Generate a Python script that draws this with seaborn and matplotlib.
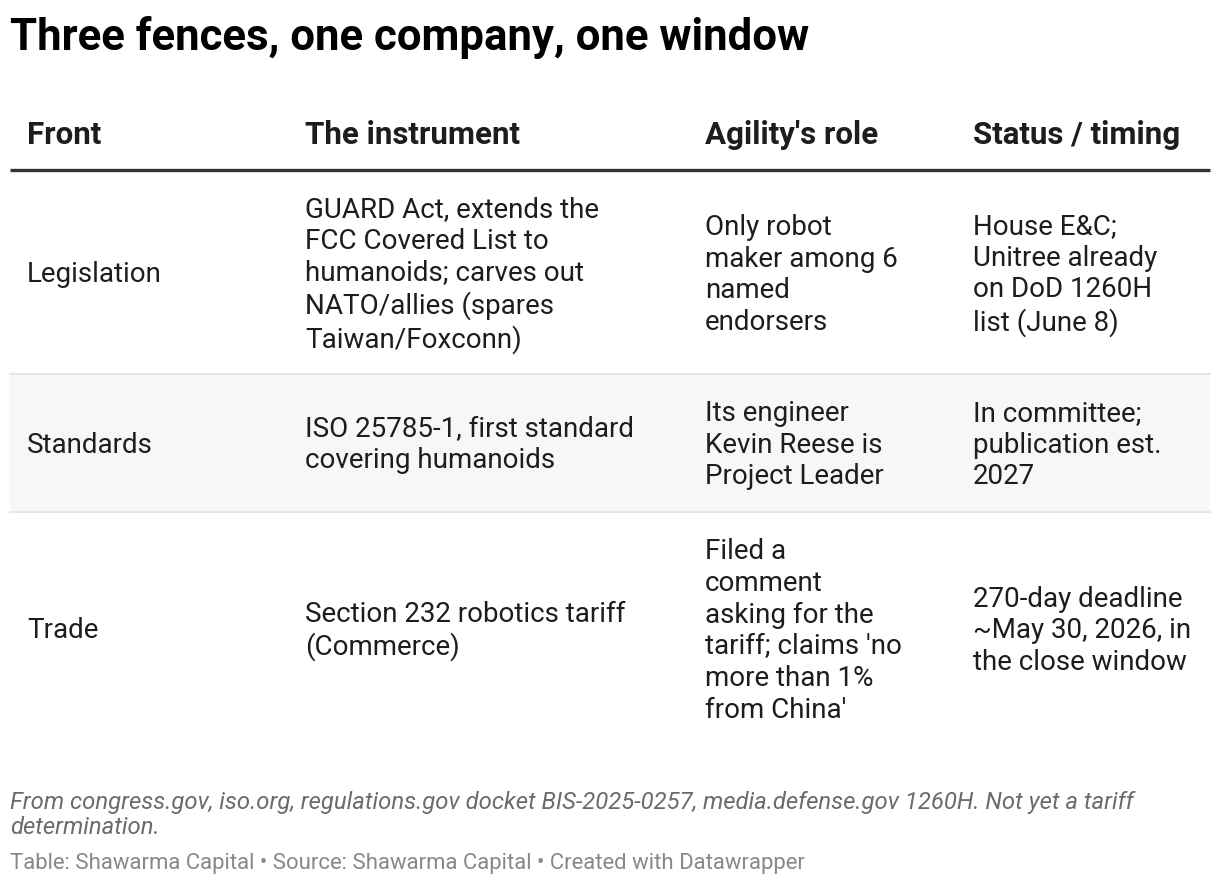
import matplotlib.pyplot as plt
import seaborn as sns

# Contenuto della tabella
titolo = "Three fences, one company, one window"
colonne = ["Front", "The instrument", "Agility's role", "Status / timing"]
fronti = ["Legislation", "Standards", "Trade"]
strumenti = [
    "GUARD Act, extends the\nFCC Covered List to\nhumanoids; carves out\nNATO/allies (spares\nTaiwan/Foxconn)",
    "ISO 25785-1, first standard\ncovering humanoids",
    "Section 232 robotics tariff\n(Commerce)",
]
ruoli = [
    "Only robot\nmaker among 6\nnamed\nendorsers",
    "Its engineer\nKevin Reese is\nProject Leader",
    "Filed a\ncomment\nasking for the\ntariff; claims 'no\nmore than 1%\nfrom China'",
]
stati = [
    "House E&C;\nUnitree already\non DoD 1260H\nlist (June 8)",
    "In committee;\npublication est.\n2027",
    "270-day deadline\n~May 30, 2026, in\nthe close window",
]
nota = ("From congress.gov, iso.org, regulations.gov docket BIS-2025-0257, media.defense.gov 1260H. Not yet a tariff\n"
        "determination.")
fonte = "Table: Shawarma Capital \u2022 Source: Shawarma Capital \u2022 Created with Datawrapper"

sns.set_theme(style="white")
plt.rcParams['font.family'] = ['Roboto', 'DejaVu Sans']

W, H = 1220, 886
fig = plt.figure(figsize=(W / 100, H / 100), dpi=100)
ax = fig.add_axes((0, 0, 1, 1))
ax.set_xlim(0, W)
ax.set_ylim(H, 0)
ax.axis("off")

x_colonne = [27, 305, 705, 973]  # bordo sinistro di ogni colonna
passo_riga = 32  # distanza tra righe di testo
dim_testo = 20

ax.text(10, 50, titolo, fontsize=31.5, fontweight="bold", color="#000000", va="baseline")

for x, nome in zip(x_colonne, colonne):
    ax.text(x, 144, nome, fontsize=22.5, fontweight="bold", color="#1d1d1d", va="baseline")
ax.plot([10, 1210], [170, 170], color="#333333", linewidth=2.4, solid_capstyle="butt")

y = 172
for i, riga in enumerate(zip(fronti, strumenti, ruoli, stati)):
    n_linee = max(c.count("\n") + 1 for c in riga)
    altezza = n_linee * passo_riga + 42
    if i % 2 == 1:
        ax.fill_between([10, 1210], y, y + altezza, color="#f7f7f7", linewidth=0)
    if i > 0:
        ax.plot([10, 1210], [y, y], color="#e6e6e6", linewidth=1.5)
    centro = y + altezza / 2 + 2
    for x, cella in zip(x_colonne, riga):
        ax.text(x, centro, cella, fontsize=dim_testo, color="#1d1d1d", va="center", ha="left",
                linespacing=1.225)
    y += altezza

# va="baseline" allinea la base dell'ultima riga
ax.text(10, 834, nota, fontsize=17.2, fontstyle="italic", color="#6b6b6b", va="baseline", linespacing=1.12)
ax.text(10, 869, fonte, fontsize=15.9, color="#888888", va="baseline")

fig.savefig("out.png", dpi=100, facecolor="white")
